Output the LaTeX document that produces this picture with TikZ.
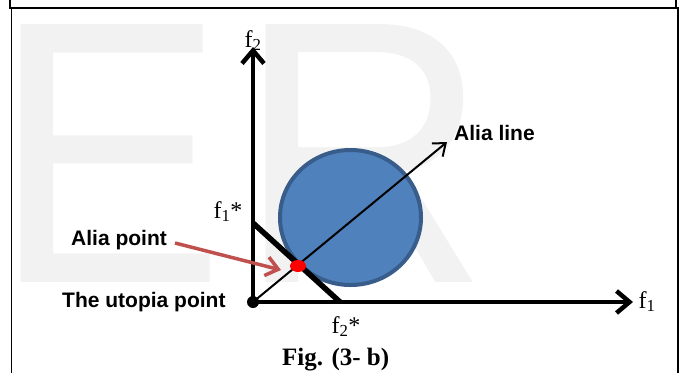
\documentclass[tikz,border=0pt]{standalone}
\usepackage{fontspec}
\setmainfont{Liberation Serif}
\setsansfont{Liberation Sans}
\usetikzlibrary{arrows.meta,shapes.geometric}
\definecolor{wm}{HTML}{F2F2F2}
\definecolor{circfill}{HTML}{4F81BD}
\definecolor{circedge}{HTML}{385D8A}
\definecolor{redarrow}{HTML}{C0504D}
\tikzset{
  frameline/.style={line width=1.5pt, black},
  axisline/.style={line width=4.5pt, -{Straight Barb[length=13pt,width=22pt]}},
  starline/.style={line width=5.5pt, line cap=butt},
  alialine/.style={line width=2pt, -{Straight Barb[length=11pt,width=17pt]}},
  pointer/.style={line width=3.5pt, redarrow, -{Straight Barb[length=12pt,width=19pt]}},
  serlabel/.style={inner sep=0pt, anchor=base, font=\fontsize{24}{24}\selectfont},
  boldlabel/.style={inner sep=0pt, anchor=base west, font=\fontsize{21}{21}\sffamily\bfseries},
  wmletter/.style={anchor=base west, inner sep=0pt, text=wm, font=\fontsize{375}{375}\sffamily},
}
\begin{document}
\begin{tikzpicture}[x=1pt,y=-1pt]
\useasboundingbox (0,0) rectangle (685,373);
\fill[white] (0,0) rectangle (685,373);
% watermark
\node[wmletter] (wmE) at (-7.5,282) {\scalebox{0.93}[1]{E}};
\node[wmletter] (wmR) at (237,282) {\scalebox{0.93}[1]{R}};
% frame
\draw[frameline] (10,0) -- (10,8);
\draw[frameline] (676,0) -- (676,8);
\draw[frameline] (9,8) -- (679,8);
\draw[frameline] (11.5,8) -- (11.5,373);
\draw[frameline] (678,8) -- (678,373);
% circle
\node[ellipse, draw=circedge, fill=circfill, line width=4pt, minimum width=141pt, minimum height=135pt, inner sep=0pt] (circ) at (350.5,217.5) {};
% coordinates
\coordinate (O) at (253,302);
\coordinate (ytip) at (253,47);
\coordinate (xtip) at (633,302);
\coordinate (f1s) at (253,223);
\coordinate (f2s) at (340,302);
\coordinate (atip) at (447,142);
\coordinate (rstart) at (175,243);
\coordinate (rtip) at (281,270);
% axes
\draw[axisline] (O) -- (ytip);
\draw[axisline] (O) -- (xtip);
% f1* - f2* line
\draw[starline] (f1s) -- (f2s);
% alia line
\draw[alialine] (O) -- (atip);
% red pointer
\draw[pointer] (rstart) -- (rtip);
% alia point (red)
\node[ellipse, fill=red, minimum width=16pt, minimum height=12pt, inner sep=0pt] (alia) at (298,266) {};
% utopia point
\node[circle, fill=black, minimum size=12pt, inner sep=0pt] (utopia) at (O) {};
% labels
\node[serlabel] (lf2) at (253,47) {f\textsubscript{2}};
\node[serlabel] (lf1s) at (228,218) {f\textsubscript{1}*};
\node[serlabel] (lf2s) at (346,333) {f\textsubscript{2}*};
\node[serlabel] (lf1) at (647,308) {f\textsubscript{1}};
\node[boldlabel] (lalialine) at (454,140) {Alia line};
\node[boldlabel] (laliapoint) at (71,245) {Alia point};
\node[boldlabel] (lutopia) at (62,307) {The utopia point};
\node[inner sep=0pt, anchor=base west, font=\fontsize{25}{25}\selectfont\bfseries] (fig) at (282,365) {Fig. (3- b)};
\end{tikzpicture}
\end{document}
